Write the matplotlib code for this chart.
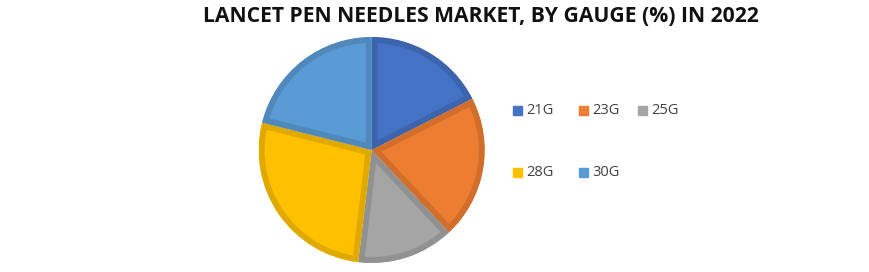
import matplotlib
matplotlib.use("Agg")
import matplotlib.pyplot as plt
import matplotlib.colors as mcolors
from matplotlib.patches import Rectangle

# data
gauges = ["21G", "23G", "25G", "28G", "30G"]
shares = [17.5, 20.5, 13.9, 27.0, 21.1]
colors = ["#4472C4", "#ED7D31", "#A5A5A5", "#FFC000", "#5B9BD5"]

title = "LANCET PEN NEEDLES MARKET, BY GAUGE (%) IN 2022"

W, H = 869, 272
fig = plt.figure(figsize=(W / 100, H / 100), dpi=100)

cx, cy, r = 371.7, 122, 113
ax = fig.add_axes([(cx - r) / W, (cy - r) / H, 2 * r / W, 2 * r / H])

def darker(c, f=0.88):
    rgb = mcolors.to_rgb(c)
    return tuple(v * f for v in rgb)

wedges, _ = ax.pie(shares, colors=colors, startangle=90, counterclock=False,
                   radius=1.0, wedgeprops=dict(linewidth=0))
ax.set_xlim(-1.0, 1.0)
ax.set_ylim(-1.0, 1.0)
ax.set_aspect("equal")
ax.axis("off")

# inner border in a darker shade of each slice (stroke clipped to the slice)
for w, c in zip(wedges, colors):
    w.set_edgecolor(darker(c))
    w.set_linewidth(8.5)
    w.set_clip_on(True)
    w.set_clip_path(w.get_path(), w.get_transform())

fig.text(481 / W, 1 - 17 / H, title, ha="center", va="center",
         fontsize=15.2, fontweight="bold", family="Open Sans", color="#111111")

# legend, laid out like the reference (3 on top row, 2 below)
pos = [(513, 111), (579, 111), (638, 111), (513, 172), (579, 172)]
for (px, py), lab, c in zip(pos, gauges, colors):
    fig.patches.append(Rectangle((px / W, 1 - (py + 4.5) / H), 9 / W, 9 / H,
                                 transform=fig.transFigure, color=c))
    fig.text((px + 13) / W, 1 - py / H, lab, ha="left", va="center",
             fontsize=10.5, family="Open Sans", color="#404040")

fig.savefig("out.png", dpi=100)
